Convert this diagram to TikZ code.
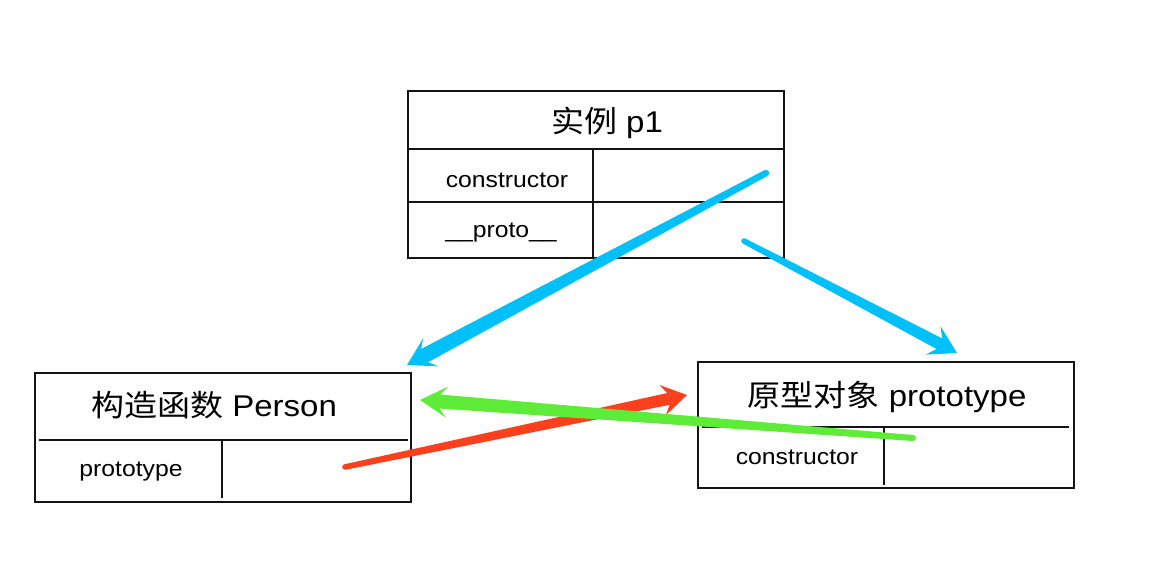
\documentclass[tikz,border=0pt]{standalone}
\usepackage{fontspec}
\setmainfont{Liberation Sans}[FakeStretch=1.1]
\newfontfamily\cjk{Noto Sans CJK SC}[FakeStretch=1.1]
\usetikzlibrary{calc}
\definecolor{ablue}{RGB}{0,192,250}
\definecolor{agreen}{RGB}{94,236,56}
\definecolor{ared}{RGB}{252,64,30}
\definecolor{boxline}{RGB}{20,20,20}
% #1 colour, #2 tail, #3 tip, #4 tail half width, #5 shaft half width at head,
% #6 barb distance from tip, #7 shaft join distance from tip, #8 head half width
\newcommand\fatarrow[8]{%
  \coordinate (hb) at ($(#3)!#6!(#2)$);
  \coordinate (sb) at ($(#3)!#7!(#2)$);
  \fill[#1] ($(#2)!#4!90:(#3)$) -- ($(sb)!#5!90:(#3)$) -- ($(hb)!#8!90:(#3)$)
    -- (#3) -- ($(hb)!#8!-90:(#3)$) -- ($(sb)!#5!-90:(#3)$) -- ($(#2)!#4!-90:(#3)$) -- cycle;
  \fill[#1] (#2) circle[radius=#4];
}
\begin{document}
\begin{tikzpicture}[x=1pt,y=-1pt,
  box/.style={draw=boxline,line width=1.8pt,inner sep=0pt},
  inner/.style={draw=boxline,line width=1.8pt},
  title/.style={anchor=base,inner sep=0pt,font=\fontsize{30}{36}\selectfont},
  cell/.style={anchor=base,inner sep=0pt,font=\fontsize{22.5}{27}\selectfont}]
\useasboundingbox (0,0) rectangle (1162,571);

% boxes
\node[box,minimum width=376pt,minimum height=167pt] (p1) at (596,174.5) {};
\node[box,minimum width=376pt,minimum height=129pt] (person) at (223,437.5) {};
\node[box,minimum width=376pt,minimum height=126pt] (proto) at (886,425) {};

% internal lines
\draw[inner] (409,149) -- (783,149);
\draw[inner] (409,202) -- (783,202);
\draw[inner] (593,149) -- (593,258);
\draw[inner] (39,440) -- (408,440);
\draw[inner] (222,441) -- (222,498);
\draw[inner] (702,427) -- (1069,427);
\draw[inner] (884,427) -- (884,485);

% texts
\node[title] (t1) at (607,132) {{\cjk 实例} p1};
\node[cell] (c1) at (507,187) {constructor};
\node[cell] (c2) at (501,237) {\_\_proto\_\_};
\node[title] (t2) at (214,416) {{\cjk 构造函数} Person};
\node[cell] (c3) at (131,476) {prototype};
\node[title] (t3) at (887,406) {{\cjk 原型对象} prototype};
\node[cell] (c4) at (797,464) {constructor};

% arrow end points
\coordinate (b1s) at (766,173);
\coordinate (b1e) at (407,365);
\coordinate (b2s) at (744,241);
\coordinate (b2e) at (957,353);
\coordinate (rs) at (345,467);
\coordinate (re) at (687,395);
\coordinate (gs) at (913,438);
\coordinate (ge) at (420,400);

% arrows
\fatarrow{ared}{rs}{re}{2.8pt}{6pt}{25pt}{19pt}{15.5pt}
\fatarrow{agreen}{gs}{ge}{3pt}{7pt}{27pt}{20pt}{15.5pt}
\fatarrow{ablue}{b1s}{b1e}{3.2pt}{7.5pt}{27pt}{20pt}{16pt}
\fatarrow{ablue}{b2s}{b2e}{2.8pt}{6pt}{27pt}{20pt}{16pt}
\end{tikzpicture}
\end{document}
